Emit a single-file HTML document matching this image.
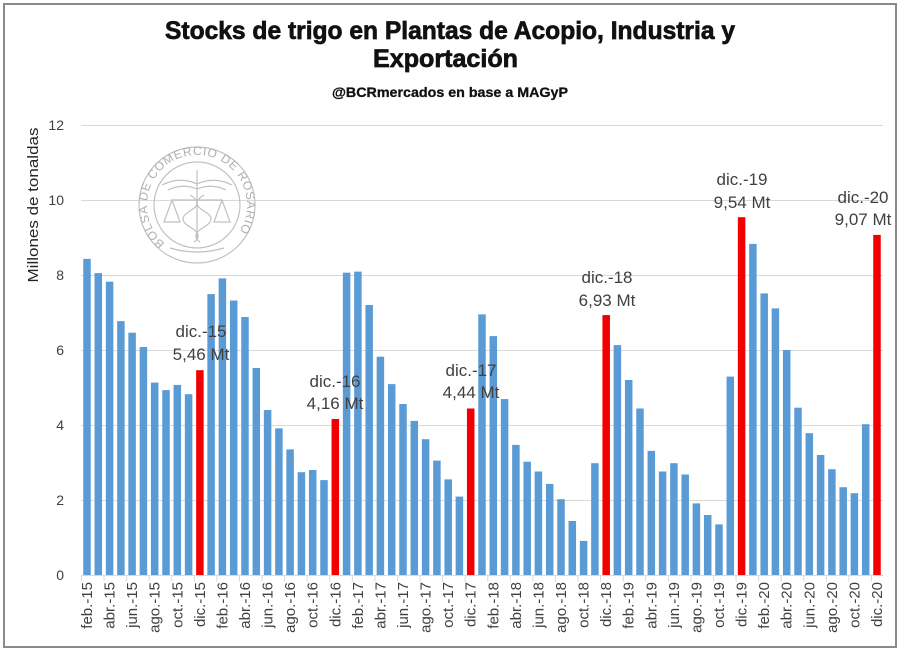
<!DOCTYPE html>
<html>
<head>
<meta charset="utf-8">
<style>
html,body{margin:0;padding:0;background:#fff;}
svg{display:block;}
</style>
</head>
<body>
<svg width="900" height="656" viewBox="0 0 900 656" xmlns="http://www.w3.org/2000/svg">
<rect x="0" y="0" width="900" height="656" fill="#fff"/>
<rect x="4" y="4" width="892" height="643" fill="#fff" stroke="#8a8a8a" stroke-width="2"/>

<!-- Title -->
<g font-family="'Liberation Sans', sans-serif" font-weight="bold" fill="#111" stroke="#111">
<text x="165" y="39" font-size="25" stroke-width="0.7" textLength="570" lengthAdjust="spacingAndGlyphs">Stocks de trigo en Plantas de Acopio, Industria y</text>
<text x="373" y="67" font-size="25" stroke-width="0.7" textLength="145" lengthAdjust="spacingAndGlyphs">Exportación</text>
<text x="332" y="97" font-size="14" stroke-width="0.3" textLength="236" lengthAdjust="spacingAndGlyphs">@BCRmercados en base a MAGyP</text>
</g>

<!-- Gridlines -->
<g stroke="#d9d9d9" stroke-width="1">
<line x1="81" y1="125.5" x2="883" y2="125.5"/>
<line x1="81" y1="200.5" x2="883" y2="200.5"/>
<line x1="81" y1="275.5" x2="883" y2="275.5"/>
<line x1="81" y1="350.5" x2="883" y2="350.5"/>
<line x1="81" y1="425.5" x2="883" y2="425.5"/>
<line x1="81" y1="500.5" x2="883" y2="500.5"/>
<line x1="81" y1="575.5" x2="883" y2="575.5"/>
</g>
<line x1="81" y1="578.5" x2="884" y2="578.5" stroke="#d9d9d9" stroke-width="6" stroke-dasharray="1 21.57"/>

<!-- Seal watermark -->
<g fill="none" stroke="#c0c0c0" stroke-width="1.2">
<circle cx="197" cy="205" r="58"/>
<circle cx="197" cy="205" r="43"/>
<line x1="197" y1="170" x2="197" y2="240"/>
<path d="M162 185 Q180 176 197 184 Q214 176 232 185"/>
<path d="M168 190 Q182 183 197 189 Q212 183 226 190"/>
<line x1="172" y1="200" x2="222" y2="200"/>
<path d="M172 200 L164 222 L180 222 Z"/>
<path d="M222 200 L214 222 L230 222 Z"/>
<path d="M190 195 Q204 203 190 211 Q176 219 190 227 Q204 235 194 242"/>
<path d="M204 195 Q190 203 204 211 Q218 219 204 227 Q190 235 200 242"/>
<path d="M170 248 Q197 256 224 248"/>
</g>
<defs>
<path id="sealArc" d="M164.9 243.3 A50 50 0 1 1 229.1 243.3"/>
</defs>
<text font-family="'Liberation Sans', sans-serif" font-size="12" fill="#b0b0b0"><textPath href="#sealArc" textLength="228" lengthAdjust="spacing">BOLSA DE COMERCIO DE ROSARIO</textPath></text>

<!-- Y axis labels -->
<g font-family="'Liberation Sans', sans-serif" font-size="14" fill="#404040" text-anchor="end">
<text x="64" y="130">12</text>
<text x="64" y="205">10</text>
<text x="64" y="280">8</text>
<text x="64" y="355">6</text>
<text x="64" y="430">4</text>
<text x="64" y="505">2</text>
<text x="64" y="580">0</text>
</g>
<text transform="translate(38,205) rotate(-90)" font-family="'Liberation Sans', sans-serif" font-size="15" fill="#262626" text-anchor="middle" textLength="155" lengthAdjust="spacingAndGlyphs">Millones de tonaldas</text>

<!-- Bars -->
<g fill="#5b9bd5">
<rect x="83.25" y="258.9" width="7.5" height="316.1"/>
<rect x="94.55" y="273.1" width="7.5" height="301.9"/>
<rect x="105.85" y="281.7" width="7.5" height="293.3"/>
<rect x="117.15" y="321.1" width="7.5" height="253.9"/>
<rect x="128.35" y="332.7" width="7.5" height="242.3"/>
<rect x="139.65" y="347.0" width="7.5" height="228.0"/>
<rect x="150.95" y="382.6" width="7.5" height="192.4"/>
<rect x="162.25" y="390.1" width="7.5" height="184.9"/>
<rect x="173.55" y="384.9" width="7.5" height="190.1"/>
<rect x="184.85" y="394.2" width="7.5" height="180.8"/>
<rect x="207.35" y="294.1" width="7.5" height="280.9"/>
<rect x="218.65" y="278.4" width="7.5" height="296.6"/>
<rect x="229.95" y="300.5" width="7.5" height="274.5"/>
<rect x="241.25" y="317.0" width="7.5" height="258.0"/>
<rect x="252.55" y="368.0" width="7.5" height="207.0"/>
<rect x="263.85" y="410.0" width="7.5" height="165.0"/>
<rect x="275.15" y="428.4" width="7.5" height="146.6"/>
<rect x="286.35" y="449.4" width="7.5" height="125.6"/>
<rect x="297.65" y="472.2" width="7.5" height="102.8"/>
<rect x="308.95" y="470.0" width="7.5" height="105.0"/>
<rect x="320.25" y="480.1" width="7.5" height="94.9"/>
<rect x="342.85" y="272.7" width="7.5" height="302.3"/>
<rect x="354.15" y="271.6" width="7.5" height="303.4"/>
<rect x="365.45" y="305.0" width="7.5" height="270.0"/>
<rect x="376.65" y="356.7" width="7.5" height="218.3"/>
<rect x="387.95" y="384.1" width="7.5" height="190.9"/>
<rect x="399.25" y="404.0" width="7.5" height="171.0"/>
<rect x="410.55" y="420.9" width="7.5" height="154.1"/>
<rect x="421.85" y="439.2" width="7.5" height="135.8"/>
<rect x="433.15" y="460.6" width="7.5" height="114.4"/>
<rect x="444.45" y="479.4" width="7.5" height="95.6"/>
<rect x="455.65" y="496.6" width="7.5" height="78.4"/>
<rect x="478.25" y="314.4" width="7.5" height="260.6"/>
<rect x="489.55" y="336.1" width="7.5" height="238.9"/>
<rect x="500.85" y="399.1" width="7.5" height="175.9"/>
<rect x="512.15" y="444.9" width="7.5" height="130.1"/>
<rect x="523.45" y="461.7" width="7.5" height="113.3"/>
<rect x="534.65" y="471.5" width="7.5" height="103.5"/>
<rect x="545.95" y="483.9" width="7.5" height="91.1"/>
<rect x="557.25" y="499.2" width="7.5" height="75.8"/>
<rect x="568.55" y="521.0" width="7.5" height="54.0"/>
<rect x="579.85" y="540.9" width="7.5" height="34.1"/>
<rect x="591.15" y="463.2" width="7.5" height="111.8"/>
<rect x="613.65" y="345.1" width="7.5" height="229.9"/>
<rect x="624.95" y="380.0" width="7.5" height="195.0"/>
<rect x="636.25" y="408.5" width="7.5" height="166.5"/>
<rect x="647.55" y="450.9" width="7.5" height="124.1"/>
<rect x="658.85" y="471.5" width="7.5" height="103.5"/>
<rect x="670.15" y="463.2" width="7.5" height="111.8"/>
<rect x="681.45" y="474.5" width="7.5" height="100.5"/>
<rect x="692.65" y="503.4" width="7.5" height="71.6"/>
<rect x="703.95" y="515.0" width="7.5" height="60.0"/>
<rect x="715.25" y="524.4" width="7.5" height="50.6"/>
<rect x="726.55" y="376.6" width="7.5" height="198.4"/>
<rect x="749.15" y="243.9" width="7.5" height="331.1"/>
<rect x="760.45" y="293.4" width="7.5" height="281.6"/>
<rect x="771.65" y="308.4" width="7.5" height="266.6"/>
<rect x="782.95" y="350.0" width="7.5" height="225.0"/>
<rect x="794.25" y="407.7" width="7.5" height="167.3"/>
<rect x="805.55" y="433.2" width="7.5" height="141.8"/>
<rect x="816.85" y="455.0" width="7.5" height="120.0"/>
<rect x="828.15" y="469.2" width="7.5" height="105.8"/>
<rect x="839.45" y="487.2" width="7.5" height="87.8"/>
<rect x="850.65" y="493.2" width="7.5" height="81.8"/>
<rect x="861.95" y="424.2" width="7.5" height="150.8"/>
</g>
<g fill="#f00000">
<rect x="196.15" y="370.2" width="7.5" height="204.8"/>
<rect x="331.55" y="419.0" width="7.5" height="156.0"/>
<rect x="466.95" y="408.5" width="7.5" height="166.5"/>
<rect x="602.45" y="315.1" width="7.5" height="259.9"/>
<rect x="737.85" y="217.2" width="7.5" height="357.8"/>
<rect x="873.25" y="234.9" width="7.5" height="340.1"/>
</g>

<!-- Annotations -->
<g font-family="'Liberation Sans', sans-serif" font-size="17" fill="#404040" text-anchor="middle">
<text x="201" y="337">dic.-15</text>
<text x="201" y="360">5,46 Mt</text>
<text x="335" y="387">dic.-16</text>
<text x="335" y="409">4,16 Mt</text>
<text x="471" y="376">dic.-17</text>
<text x="471" y="398">4,44 Mt</text>
<text x="607" y="283">dic.-18</text>
<text x="607" y="306">6,93 Mt</text>
<text x="742" y="185">dic.-19</text>
<text x="742" y="208">9,54 Mt</text>
<text x="863" y="203">dic.-20</text>
<text x="863" y="225">9,07 Mt</text>
</g>

<!-- X axis labels -->
<g font-family="'Liberation Sans', sans-serif" font-size="15" fill="#404040" text-anchor="end">
<text transform="translate(92.0,582) rotate(-90)">feb.-15</text>
<text transform="translate(114.6,582) rotate(-90)">abr.-15</text>
<text transform="translate(137.1,582) rotate(-90)">jun.-15</text>
<text transform="translate(159.7,582) rotate(-90)">ago.-15</text>
<text transform="translate(182.3,582) rotate(-90)">oct.-15</text>
<text transform="translate(204.9,582) rotate(-90)">dic.-15</text>
<text transform="translate(227.4,582) rotate(-90)">feb.-16</text>
<text transform="translate(250.0,582) rotate(-90)">abr.-16</text>
<text transform="translate(272.6,582) rotate(-90)">jun.-16</text>
<text transform="translate(295.1,582) rotate(-90)">ago.-16</text>
<text transform="translate(317.7,582) rotate(-90)">oct.-16</text>
<text transform="translate(340.3,582) rotate(-90)">dic.-16</text>
<text transform="translate(362.9,582) rotate(-90)">feb.-17</text>
<text transform="translate(385.4,582) rotate(-90)">abr.-17</text>
<text transform="translate(408.0,582) rotate(-90)">jun.-17</text>
<text transform="translate(430.6,582) rotate(-90)">ago.-17</text>
<text transform="translate(453.2,582) rotate(-90)">oct.-17</text>
<text transform="translate(475.7,582) rotate(-90)">dic.-17</text>
<text transform="translate(498.3,582) rotate(-90)">feb.-18</text>
<text transform="translate(520.9,582) rotate(-90)">abr.-18</text>
<text transform="translate(543.4,582) rotate(-90)">jun.-18</text>
<text transform="translate(566.0,582) rotate(-90)">ago.-18</text>
<text transform="translate(588.6,582) rotate(-90)">oct.-18</text>
<text transform="translate(611.2,582) rotate(-90)">dic.-18</text>
<text transform="translate(633.7,582) rotate(-90)">feb.-19</text>
<text transform="translate(656.3,582) rotate(-90)">abr.-19</text>
<text transform="translate(678.9,582) rotate(-90)">jun.-19</text>
<text transform="translate(701.4,582) rotate(-90)">ago.-19</text>
<text transform="translate(724.0,582) rotate(-90)">oct.-19</text>
<text transform="translate(746.6,582) rotate(-90)">dic.-19</text>
<text transform="translate(769.2,582) rotate(-90)">feb.-20</text>
<text transform="translate(791.7,582) rotate(-90)">abr.-20</text>
<text transform="translate(814.3,582) rotate(-90)">jun.-20</text>
<text transform="translate(836.9,582) rotate(-90)">ago.-20</text>
<text transform="translate(859.4,582) rotate(-90)">oct.-20</text>
<text transform="translate(882.0,582) rotate(-90)">dic.-20</text>
</g>
</svg>
</body>
</html>
